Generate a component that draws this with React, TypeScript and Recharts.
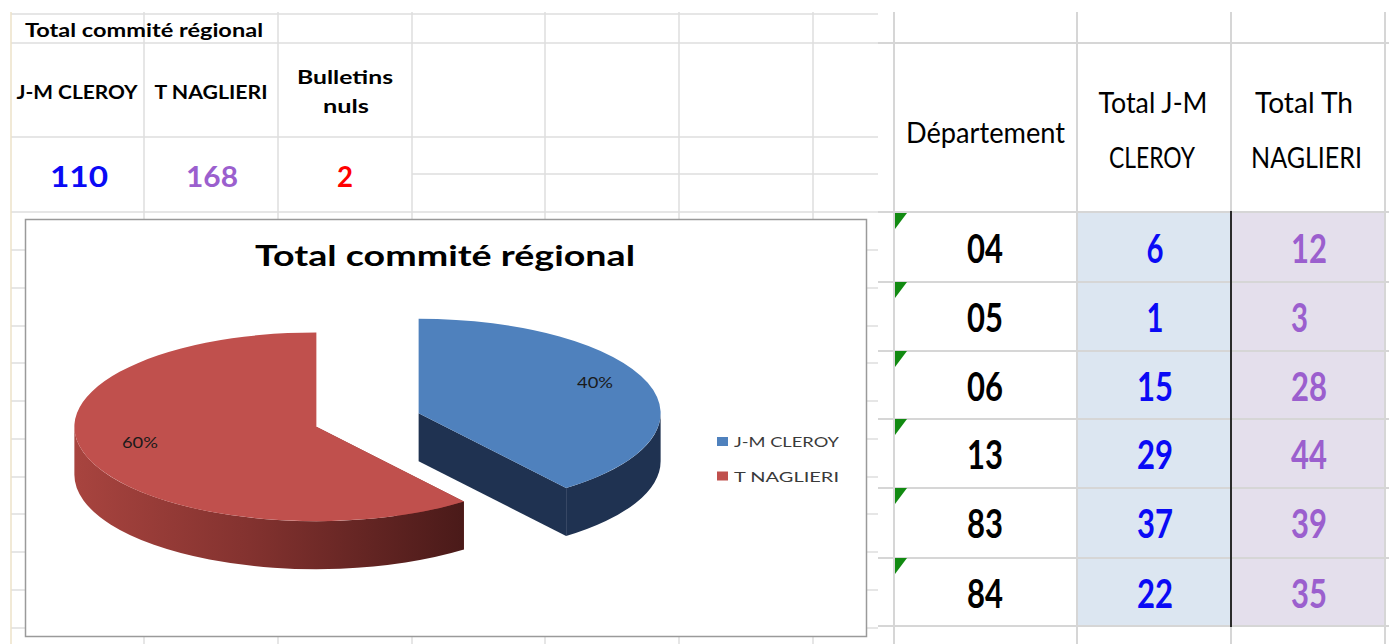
import React from 'react';
import { PieChart, Pie, Cell, Legend } from 'recharts';

// regional totals
const candidates = ['J-M CLEROY', 'T NAGLIERI'];
const regionalTotals = [110, 168];
const blankVotes = 2;

// per department
const departments = ['04', '05', '06', '13', '83', '84'];
const cleroyVotes = [6, 1, 15, 29, 37, 22];
const naglieriVotes = [12, 3, 28, 44, 39, 35];

const pieData = candidates.map((name, i) => ({ name, value: regionalTotals[i] }));

const TOP_COLORS = ['#4f81bd', '#c0504d'];
const WALL_FILLS = ['#1f3251', 'url(#redWall)'];
const CUT_FILLS = ['#1f3251', '#8a3532'];

const FONT = 'Lato, "Open Sans", sans-serif';
const RAD = Math.PI / 180;
const K = 0.39; // vertical squash of the tilted pie
const DEPTH = 48;
const EXPLODE = 54;

const offsetFor = (mid: number) => [EXPLODE * Math.cos(mid * RAD), -K * EXPLODE * Math.sin(mid * RAD)];
const at = (x: number, y: number, r: number, a: number) => [x + r * Math.cos(a * RAD), y - K * r * Math.sin(a * RAD)];

function Slice3D(props: any) {
  const { cx, cy, outerRadius: r, startAngle, endAngle, fill } = props;
  const name = props.name ?? props.payload?.name;
  const idx = typeof props.index === 'number' ? props.index : Math.max(0, candidates.indexOf(name));
  const mid = props.midAngle ?? (startAngle + endAngle) / 2;
  const [ox, oy] = offsetFor(mid);
  const x0 = cx + ox;
  const y0 = cy + oy;
  const ry = K * r;
  const hi = Math.max(startAngle, endAngle);
  const lo = Math.min(startAngle, endAngle);
  const ps = at(x0, y0, r, hi);
  const pe = at(x0, y0, r, lo);
  const large = hi - lo > 180 ? 1 : 0;
  const top = `M${x0},${y0} L${ps[0]},${ps[1]} A${r},${ry} 0 ${large} 1 ${pe[0]},${pe[1]} Z`;

  const cuts = [hi, lo].map((a) => {
    const p = at(x0, y0, r, a);
    return `M${x0},${y0} L${p[0]},${p[1]} L${p[0]},${p[1] + DEPTH} L${x0},${y0 + DEPTH} Z`;
  });

  // front-facing part of the rim
  const walls: string[] = [];
  for (let k = -2; k <= 1; k++) {
    const a1 = Math.min(hi, 360 * k);
    const a0 = Math.max(lo, 360 * k - 180);
    if (a1 > a0) {
      const p1 = at(x0, y0, r, a1);
      const p0 = at(x0, y0, r, a0);
      walls.push(
        `M${p1[0]},${p1[1]} A${r},${ry} 0 0 1 ${p0[0]},${p0[1]} L${p0[0]},${p0[1] + DEPTH} A${r},${ry} 0 0 0 ${p1[0]},${p1[1] + DEPTH} Z`
      );
    }
  }

  return (
    <g>
      <defs>
        <linearGradient id="redWall" x1="0" y1="0" x2="1" y2="0">
          <stop offset="0%" stopColor="#a8443f" />
          <stop offset="45%" stopColor="#83322f" />
          <stop offset="100%" stopColor="#4a1a19" />
        </linearGradient>
      </defs>
      {cuts.map((d, i) => (
        <path key={'c' + i} d={d} fill={CUT_FILLS[idx]} />
      ))}
      {walls.map((d, i) => (
        <path key={'w' + i} d={d} fill={WALL_FILLS[idx]} />
      ))}
      <path d={top} fill={fill} />
    </g>
  );
}

const renderPct = (p: any) => {
  const { cx, cy, midAngle, outerRadius, percent } = p;
  const [ox, oy] = offsetFor(midAngle);
  const r = outerRadius * 0.77;
  const x = cx + ox + r * Math.cos(midAngle * RAD);
  const y = cy + oy - K * r * Math.sin(midAngle * RAD) - 8;
  return (
    <text x={x} y={y} textAnchor="middle" dominantBaseline="central" fontFamily={FONT} fontSize={15} fill="#1a1a1a" textLength={36} lengthAdjust="spacingAndGlyphs">
      {`${Math.round(percent * 100)}%`}
    </text>
  );
};

const renderLegend = (props: any) => (
  <svg width={160} height={60} style={{ display: 'block' }}>
    {(props.payload || []).map((item: any, i: number) => (
      <g key={i} transform={`translate(0, ${i * 34.5})`}>
        <rect x={0} y={4} width={11} height={9} fill={item.color} />
        <text x={17} y={14} fontFamily={FONT} fontSize={14} fill="#3a3a3a" textLength={String(item.value).length * 10.5} lengthAdjust="spacingAndGlyphs">
          {item.value}
        </text>
      </g>
    ))}
  </svg>
);

function T({ x, y, s, w, c = '#000', b = false, anchor = 'middle', children }: any) {
  return (
    <text x={x} y={y} fontSize={s} fontWeight={b ? 700 : 400} fill={c} fontFamily={FONT} textAnchor={anchor} textLength={w} lengthAdjust="spacingAndGlyphs">
      {children}
    </text>
  );
}

const LEFT_COLS = [144, 278, 412, 545, 679, 813];
const LEFT_ROWS = [14, 43, 137, 212, 250, 288, 326, 363, 401, 439, 477, 514, 552, 590, 628];
const RIGHT_COLS = [894, 1077, 1231, 1385];
const RIGHT_ROWS = [43, 212, 282, 351, 419, 488, 558, 626];
const ROW_TOPS = [213, 282, 351, 419, 488, 558];
const BLUE = '#0a0af5';
const PURPLE = '#9b5fce';

const digitW = (v: string | number) => (String(v).length > 1 ? 36 : 17);

export default function App() {
  return (
    <div style={{ position: 'absolute', left: 0, top: 0, width: 1389, height: 644, background: '#fff', overflow: 'hidden' }}>
      <svg width={1389} height={644} style={{ position: 'absolute', left: 0, top: 0 }}>
        {/* left sheet grid */}
        {LEFT_COLS.map((x) => (
          <line key={'lc' + x} x1={x} y1={12} x2={x} y2={644} stroke="#dedede" strokeWidth={1.5} />
        ))}
        {LEFT_ROWS.map((y) => (
          <line key={'lr' + y} x1={11} y1={y} x2={878} y2={y} stroke="#dedede" strokeWidth={1.5} />
        ))}
        <line x1={412} y1={174} x2={878} y2={174} stroke="#dedede" strokeWidth={1.5} />
        <line x1={11} y1={12} x2={11} y2={644} stroke="#ece2c8" strokeWidth={1.5} />

        {/* right sheet */}
        <rect x={1077} y={212} width={154} height={414} fill="#dce6f1" />
        <rect x={1231} y={212} width={154} height={414} fill="#e4dfec" />
        {RIGHT_COLS.map((x) => (
          <line key={'rc' + x} x1={x} y1={12} x2={x} y2={644} stroke="#d6d6d6" strokeWidth={2} />
        ))}
        {RIGHT_ROWS.map((y) => (
          <line key={'rr' + y} x1={878} y1={y} x2={1389} y2={y} stroke="#d6d6d6" strokeWidth={2} />
        ))}
        <line x1={1231} y1={211} x2={1231} y2={627} stroke="#2b2b2b" strokeWidth={2} />

        {/* left table */}
        <T x={144} y={37} s={19} w={238} b>Total commité régional</T>
        <T x={77} y={99} s={19} w={121} b>{candidates[0]}</T>
        <T x={211} y={99} s={19} w={113} b>{candidates[1]}</T>
        <T x={345} y={84} s={19} w={96} b>Bulletins</T>
        <T x={346} y={113} s={19} w={46} b>nuls</T>
        <T x={79} y={187} s={29} w={58} b c={BLUE}>{regionalTotals[0]}</T>
        <T x={212} y={187} s={29} w={52} b c={PURPLE}>{regionalTotals[1]}</T>
        <T x={345} y={187} s={29} w={16} b c="#ff0000">{blankVotes}</T>

        {/* right table */}
        <T x={985.5} y={143} s={29} w={159}>Département</T>
        <T x={1153} y={113} s={29} w={109}>Total J-M</T>
        <T x={1152} y={168} s={29} w={86}>CLEROY</T>
        <T x={1304} y={113} s={29} w={98}>Total Th</T>
        <T x={1306.5} y={168} s={29} w={111}>NAGLIERI</T>
        {departments.map((d, i) => (
          <g key={d}>
            <polygon points={`895,${ROW_TOPS[i]} 907,${ROW_TOPS[i]} 895,${ROW_TOPS[i] + 16}`} fill="#118a11" />
            <T x={985} y={ROW_TOPS[i] + 50} s={40} w={36} b>{d}</T>
            <T x={1155} y={ROW_TOPS[i] + 50} s={40} w={digitW(cleroyVotes[i])} b c={BLUE}>{cleroyVotes[i]}</T>
            <T x={1291} y={ROW_TOPS[i] + 50} s={40} w={digitW(naglieriVotes[i])} b c={PURPLE} anchor="start">{naglieriVotes[i]}</T>
          </g>
        ))}

        {/* chart frame + title */}
        <rect x={25.5} y={219.5} width={841} height={417} fill="#fff" stroke="#9a9a9a" strokeWidth={1.5} />
        <T x={445} y={266} s={28} w={380} b>Total commité régional</T>
      </svg>

      <div style={{ position: 'absolute', left: 25, top: 219, width: 842, height: 418 }}>
        <PieChart width={842} height={418} margin={{ top: 0, right: 0, bottom: 0, left: 0 }}>
          <Pie
            data={pieData}
            dataKey="value"
            nameKey="name"
            cx={342.5}
            cy={201}
            outerRadius={242}
            startAngle={90}
            endAngle={-270}
            stroke="none"
            shape={Slice3D}
            label={renderPct}
            labelLine={false}
            isAnimationActive={false}
          >
            {pieData.map((d, i) => (
              <Cell key={d.name} fill={TOP_COLORS[i]} />
            ))}
          </Pie>
          <Legend
            layout="vertical"
            align="right"
            verticalAlign="middle"
            content={renderLegend}
            wrapperStyle={{ left: 692, top: 214, width: 160, right: 'auto', bottom: 'auto' }}
          />
        </PieChart>
      </div>
    </div>
  );
}
